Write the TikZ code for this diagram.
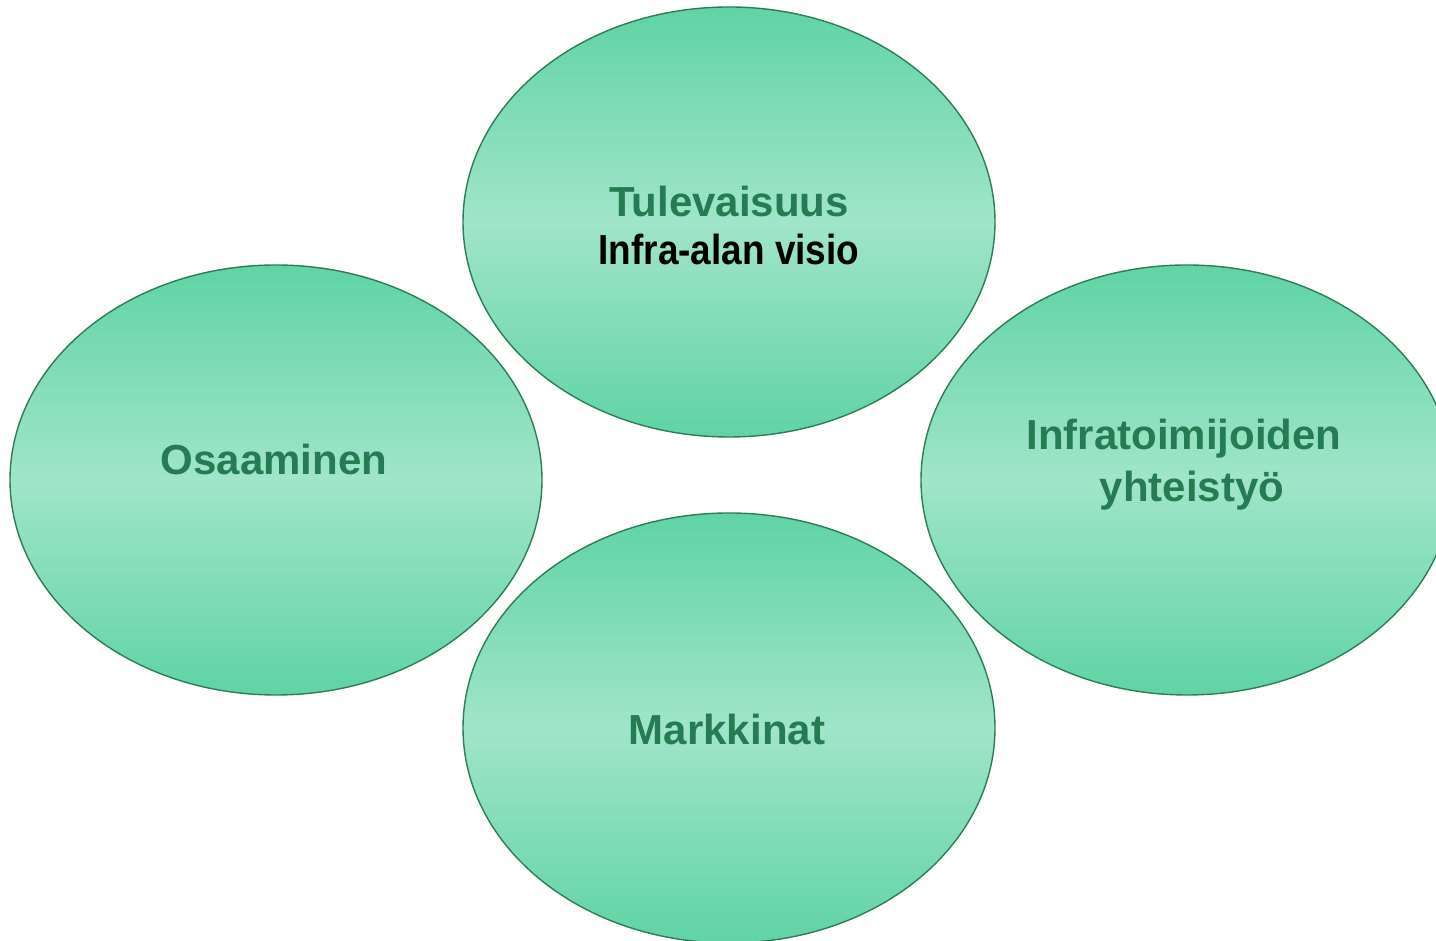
\documentclass[tikz,border=0pt]{standalone}
\usepackage{fontspec}
\setmainfont{Liberation Sans}
\newfontfamily\narrowfont[FakeStretch=0.88]{Liberation Sans}
\usetikzlibrary{shapes.geometric}
\definecolor{bubbleout}{RGB}{96,211,165}
\definecolor{bubblein}{RGB}{160,229,201}
\definecolor{bubbleline}{RGB}{46,125,84}
\definecolor{labelgreen}{RGB}{38,124,82}

\begin{document}
\begin{tikzpicture}[
  x=0.5pt, y=0.5pt,
  bubble/.style={ellipse, draw=bubbleline, line width=0.7pt, minimum width=266pt, minimum height=215pt, top color=bubbleout, bottom color=bubbleout, middle color=bubblein},
  title/.style={font=\bfseries\fontsize{21}{26}\selectfont, text=labelgreen, align=center, inner sep=0pt}
]
  \clip (0,0) rectangle (1436,941);

  % the four bubbles
  \node[bubble] (tulevaisuus) at (729,719) {};
  \node[bubble] (osaaminen) at (276,461) {};
  \node[bubble] (yhteistyo) at (1187,461) {};
  \node[bubble] (markkinat) at (729,213) {};

  % texts
  \node[title, font=\bfseries\fontsize{21}{24}\selectfont] (tulevaisuus-text) at (729,715) {Tulevaisuus\\{\narrowfont\color{black}Infra-alan visio}};
  \node[title] (osaaminen-text) at (274,481) {Osaaminen};
  \node[title] (yhteistyo-text) at (1184,476) {Infratoimijoiden\\\hspace*{8pt}yhteistyö};
  \node[title] (markkinat-text) at (727,212) {Markkinat};
\end{tikzpicture}
\end{document}
